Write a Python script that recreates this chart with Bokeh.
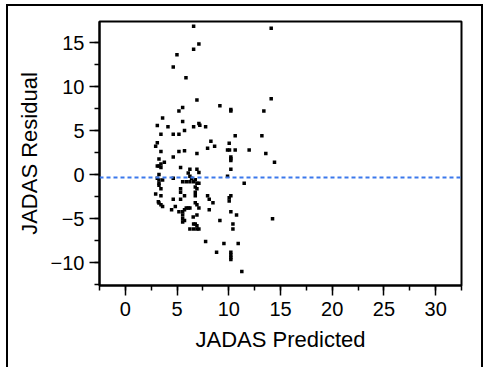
from bokeh.plotting import figure
from bokeh.models import Span, Range1d, SingleIntervalTicker
from bokeh.embed import file_html
from bokeh.resources import INLINE

# Data (JADAS predicted vs residual)
predicted = [
    6.60, 14.10, 7.11, 6.60, 4.99, 4.63, 5.86, 6.92, 14.10, 9.14,
    5.54, 5.18, 10.20, 10.20, 13.39, 3.60, 3.09, 4.12, 5.54, 6.60,
    7.11, 7.20, 7.76, 5.72, 3.44, 4.63, 5.18, 10.62, 13.20, 8.27,
    8.63, 7.95, 10.04, 3.09, 2.93, 9.88, 10.07, 10.62, 11.97, 5.18,
    5.72, 3.44, 6.92, 13.58, 4.63, 10.20, 10.20, 10.20, 3.25, 14.42,
    3.77, 3.44, 3.09, 3.25, 3.44, 5.34, 10.20, 6.24, 6.92, 7.11,
    6.08, 9.88, 3.25, 3.09, 3.25, 3.60, 4.63, 6.24, 6.40, 5.54,
    5.89, 6.24, 6.60, 6.76, 6.92, 7.11, 11.49, 3.25, 3.25, 6.76,
    3.44, 6.92, 5.34, 2.93, 5.34, 6.76, 6.76, 5.72, 3.44, 7.95,
    10.20, 10.04, 10.04, 8.11, 8.47, 4.63, 5.34, 3.19, 3.25, 3.44,
    3.60, 4.83, 4.47, 6.76, 6.92, 7.11, 5.89, 6.08, 6.24, 5.72,
    5.18, 5.54, 8.11, 10.20, 10.75, 6.92, 5.54, 5.54, 6.56, 5.54,
    5.72, 14.23, 9.14, 10.40, 6.60, 6.76, 6.92, 6.24, 6.60, 7.11,
    6.92, 10.40, 7.76, 9.53, 10.91, 8.82, 10.20, 10.20, 10.20, 10.20,
    11.26,
]
residual = [
    16.86, 16.63, 14.85, 14.24, 13.63, 12.23, 11.01, 8.47, 8.62, 7.82,
    7.63, 7.22, 7.41, 7.22, 7.22, 6.42, 5.58, 5.43, 6.04, 5.43,
    5.81, 5.62, 5.43, 5.01, 4.60, 4.60, 4.60, 4.41, 4.41, 3.80,
    3.23, 3.00, 3.57, 3.61, 3.23, 2.81, 2.81, 2.81, 2.81, 2.62,
    2.70, 2.62, 2.39, 2.39, 2.01, 2.01, 1.80, 1.60, 1.78, 1.41,
    1.41, 1.22, 0.99, 0.99, 0.80, 0.80, 0.61, 0.61, 0.61, 0.23,
    0.19, -0.19, 0.00, -0.42, -0.61, -0.61, -0.42, -0.19, -0.42, -0.80,
    -0.80, -0.80, -0.80, -0.57, -0.99, -0.99, -0.99, -0.99, -1.22, -1.41,
    -1.60, -1.60, -1.60, -2.20, -2.01, -2.01, -2.39, -2.39, -2.39, -2.39,
    -2.39, -2.62, -3.00, -2.81, -3.19, -2.81, -2.81, -3.08, -3.23, -3.42,
    -3.61, -3.61, -3.99, -3.19, -3.42, -3.80, -3.80, -3.80, -3.80, -3.99,
    -4.22, -4.22, -3.99, -4.22, -4.60, -4.60, -4.60, -5.01, -4.82, -5.39,
    -5.20, -5.01, -5.20, -5.62, -5.62, -5.62, -5.81, -6.19, -6.19, -6.19,
    -6.19, -6.19, -7.60, -7.82, -7.82, -8.81, -8.81, -9.13, -9.42, -9.65,
    -11.01,
]
mean_residual = -0.34

x_label = "JADAS Predicted"
y_label = "JADAS Residual"

p = figure(
    frame_width=362, frame_height=264,
    min_border_left=91, min_border_top=15, min_border_right=20, min_border_bottom=82,
    x_range=Range1d(-2.5, 32.5), y_range=Range1d(-12.6, 17.4),
    output_backend="svg", toolbar_location=None,
)
p.margin = (6, 0, 0, 8)
p.styles = {"outline": "2px solid black"}

p.xgrid.visible = False
p.ygrid.visible = False
p.outline_line_color = "black"
p.outline_line_width = 2
p.background_fill_color = "white"
p.border_fill_color = "white"

for ax in (p.xaxis[0], p.yaxis[0]):
    ax.ticker = SingleIntervalTicker(interval=5, num_minor_ticks=2)
    ax.axis_line_color = "black"
    ax.axis_line_width = 2
    ax.major_tick_in = 0
    ax.major_tick_out = 10
    ax.minor_tick_in = 0
    ax.minor_tick_out = 5
    ax.major_tick_line_color = "black"
    ax.minor_tick_line_color = "black"
    ax.major_tick_line_width = 1.5
    ax.minor_tick_line_width = 1.5
    ax.major_label_text_font = "Liberation Sans"
    ax.major_label_text_font_size = "20px"
    ax.major_label_text_color = "black"
    ax.axis_label_text_font = "Liberation Sans"
    ax.axis_label_text_font_size = "22px"
    ax.axis_label_text_font_style = "normal"
    ax.axis_label_text_color = "black"

p.xaxis[0].axis_label = x_label
p.yaxis[0].axis_label = y_label
p.xaxis[0].major_label_standoff = 6
p.yaxis[0].major_label_standoff = 5
p.xaxis[0].axis_label_standoff = 8
p.yaxis[0].axis_label_standoff = 6

p.add_layout(Span(location=mean_residual, dimension="width", line_color="#3b78ec",
                  line_dash="4 3", line_width=2))

p.scatter(predicted, residual, marker="square", size=3.5, fill_color="black",
          line_color=None)

open("out.html", "w").write(file_html(p, INLINE))
